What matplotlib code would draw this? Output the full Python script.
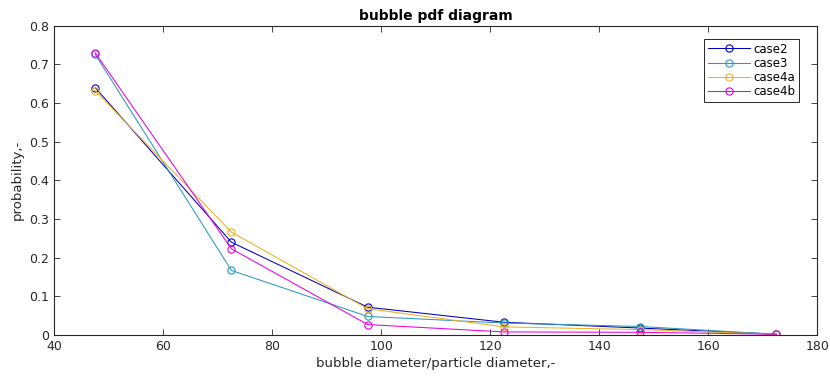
#!/usr/bin/env python3
"""Bubble size pdf for the four cases."""

import matplotlib
matplotlib.use('Agg')
import matplotlib.pyplot as plt

matplotlib.rcParams.update({
    'font.family': 'DejaVu Sans',
    'font.size': 9,
    'xtick.direction': 'in',
    'ytick.direction': 'in',
    'xtick.top': True,
    'ytick.right': True,
})

# bin centres (bubble diameter / particle diameter)
diam_ratio = [47.5, 72.5, 97.5, 122.5, 147.5, 172.5]

case2 = [0.640, 0.240, 0.072, 0.033, 0.018, 0.002]
case3 = [0.726, 0.167, 0.048, 0.031, 0.022, 0.002]
case4a = [0.632, 0.266, 0.068, 0.021, 0.014, 0.002]
case4b = [0.730, 0.223, 0.027, 0.008, 0.007, 0.002]

series = [
    ('case2', case2, '#0000B8'),
    ('case3', case3, '#2A98C0'),
    ('case4a', case4a, '#EDB120'),
    ('case4b', case4b, '#E600E6'),
]

AX_GRAY = '#262626'

fig = plt.figure(figsize=(8.3, 3.83), dpi=100)
ax = fig.add_axes([0.0654, 0.1253, 0.9193, 0.8076])

for name, vals, col in series:
    ax.plot(diam_ratio, vals, color=col, lw=0.75, marker='o', ms=5.2,
            mfc='none', mec=col, mew=0.8, label=name)

ax.set_xlim(40, 180)
ax.set_ylim(0, 0.8)
ax.set_xticks(range(40, 181, 20))
ax.set_yticks([i / 10 for i in range(9)])
ax.set_yticklabels(['0'] + [f'{i / 10:.1f}' for i in range(1, 9)])

ax.set_title('bubble pdf diagram', fontsize=10, fontweight='bold', pad=4)
ax.set_xlabel('bubble diameter/particle diameter,-', fontsize=9.5, color=AX_GRAY, labelpad=3)
ax.set_ylabel('probability,-', fontsize=9.5, color=AX_GRAY, labelpad=4)

for sp in ax.spines.values():
    sp.set_color(AX_GRAY)
    sp.set_linewidth(0.8)
ax.tick_params(colors=AX_GRAY, labelcolor=AX_GRAY, length=4, width=0.6, labelsize=9)

leg = ax.legend(loc='upper right', bbox_to_anchor=(0.984, 0.976), fancybox=False,
                edgecolor=AX_GRAY, framealpha=1, handlelength=3.6, handletextpad=0.3,
                labelspacing=0.1, borderpad=0.3, fontsize=8.5)
leg.get_frame().set_linewidth(0.7)

fig.savefig('out.png', dpi=100)
